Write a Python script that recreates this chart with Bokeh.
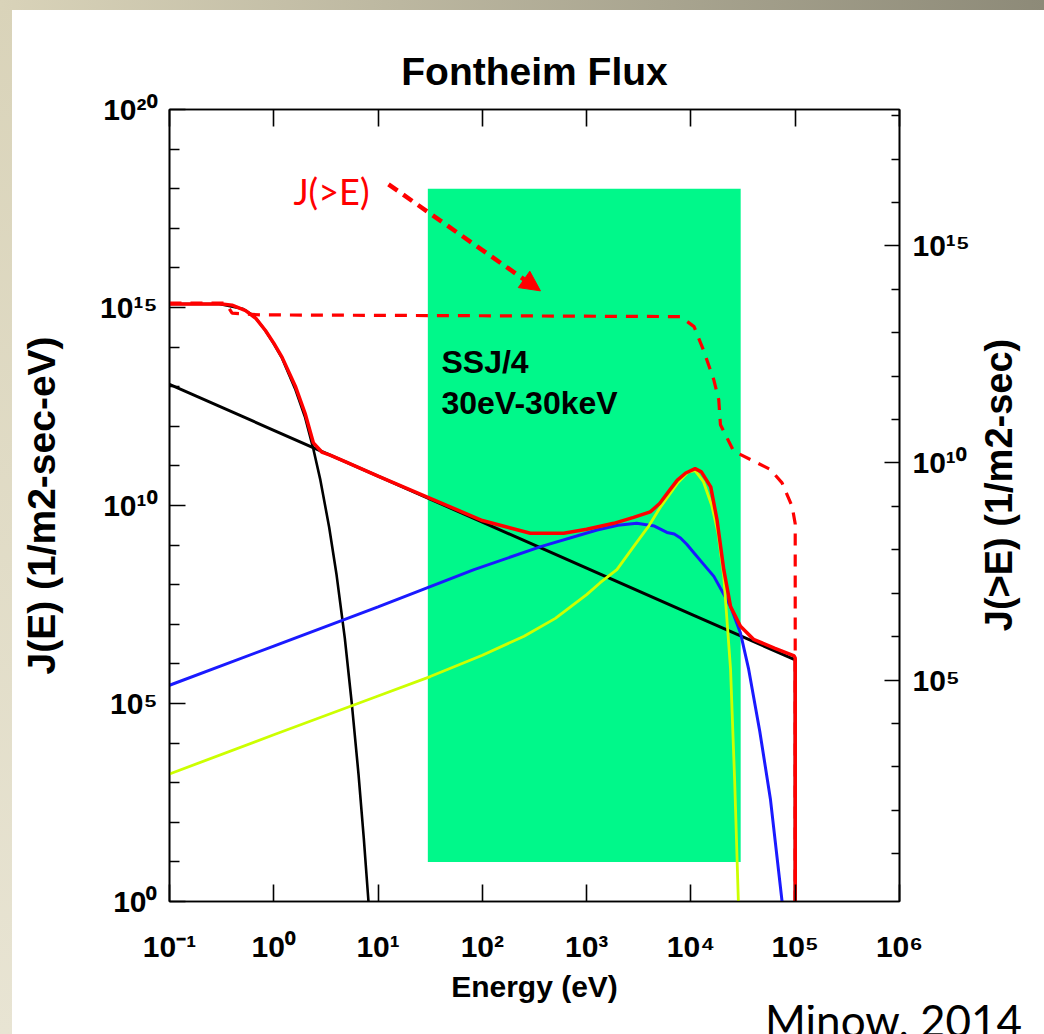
import numpy as np
from bokeh.plotting import figure
from bokeh.models import (LogAxis, FixedTicker, CustomJSTickFormatter, Range1d, LogScale,
                          Arrow, NormalHead, Div)
from bokeh.layouts import column, row
from bokeh.core.properties import value
from bokeh.embed import file_html
from bokeh.resources import INLINE

# ---------------- data (log10 values) ----------------
black_pl_logE = [-1.0, 0.0, 1.0, 2.0, 3.0, 4.0, 5.0, 5.0]
black_pl_logJ = [13.06, 11.90, 10.74, 9.58, 8.42, 7.26, 6.10, -1.0]

black_mx_logE = [-1.0, -0.523, -0.301, -0.187, -0.081, 0.0, 0.079, 0.204, 0.301, 0.380,
                 0.447, 0.531, 0.602, 0.681, 0.748, 0.813, 0.863, 0.908, 0.934]
black_mx_logJ = [15.09, 15.09, 14.97, 14.78, 14.42, 14.08, 13.72, 12.95, 12.22, 11.42,
                 10.64, 9.45, 8.25, 6.65, 5.0, 3.2, 1.6, 0.0, -1.0]

blue_logE = [-1.0, 0.0, 1.0, 1.92, 2.56, 3.10, 3.30, 3.48, 3.65, 3.77, 3.84, 3.90, 3.96, 4.03,
             4.12, 4.22, 4.38, 4.475, 4.554, 4.66, 4.762, 4.874, 4.90]
blue_logJ = [5.46, 6.45, 7.44, 8.38, 8.96, 9.38, 9.50, 9.55, 9.48, 9.32, 9.28, 9.18, 9.02, 8.80,
             8.52, 8.21, 7.45, 6.78, 5.86, 4.30, 2.59, 0.0, -0.6]

yellow_logE = [-1.0, 0.0, 1.0, 1.5, 2.0, 2.4, 2.7, 3.0, 3.13, 3.29, 3.45, 3.60, 3.71, 3.87,
               3.97, 4.04, 4.12, 4.20, 4.26, 4.315, 4.38, 4.42, 4.455, 4.47]
yellow_logJ = [3.22, 4.21, 5.19, 5.68, 6.22, 6.70, 7.15, 7.75, 8.05, 8.38, 8.96, 9.50, 9.97,
               10.56, 10.84, 10.88, 10.60, 10.00, 9.30, 8.21, 5.86, 3.0, 0.0, -1.0]

red_logE = [-1.0, -0.5, -0.4, -0.27, -0.17, -0.08, 0.0, 0.08, 0.21, 0.30, 0.38, 0.46, 0.54,
            0.69, 1.0, 1.5, 2.0, 2.46, 2.78, 3.0, 3.26, 3.45, 3.61, 3.70, 3.80, 3.87, 3.95,
            4.04, 4.10, 4.19, 4.25, 4.315, 4.38, 4.475, 4.60, 4.80, 4.99, 5.0, 5.0]
red_logJ = [15.09, 15.09, 15.06, 14.92, 14.72, 14.42, 14.10, 13.74, 12.99, 12.33, 11.58, 11.35,
            11.27, 11.10, 10.74, 10.18, 9.62, 9.30, 9.30, 9.40, 9.55, 9.70, 9.84, 10.05, 10.40,
            10.64, 10.82, 10.93, 10.85, 10.47, 9.64, 8.38, 7.45, 6.95, 6.62, 6.40, 6.20, 6.15, -1.0]

# integral flux J(>E), right axis
jint_logE = [-1.0, -0.46, -0.40, -0.13, 2.0, 3.9, 4.03, 4.12, 4.22, 4.267, 4.283, 4.41, 4.57,
             4.762, 4.874, 4.97, 5.0, 5.0]
jint_logJ = [13.68, 13.68, 13.45, 13.41, 13.39, 13.37, 13.14, 12.60, 11.91, 11.45, 10.88, 10.27,
             10.08, 9.85, 9.54, 9.00, 8.60, -1.0]

ssj_band_E = [30.0, 30000.0]
ssj_band_J = [10.0, 1e18]

x_tick_exp = [-1, 0, 1, 2, 3, 4, 5, 6]
left_major_exp = [0, 5, 10, 15, 20]
right_major_exp = [5, 10, 15]

arrow_logE = [1.10, 2.557]
arrow_logJ = [18.11, 15.42]
jlabel_logE = [0.553]
jlabel_logJ = [17.94]
ssj_text = ["SSJ/4", "30eV-30keV"]
ssj_logE = [1.608, 1.608]
ssj_logJ = [13.62, 12.60]
right_label_text = "J(&gt;E) (1/m2-sec)"
credit_text = "Minow, 2014"


def pw(a):
    return (10.0 ** np.array(a, dtype=float)).tolist()


FONT = "Liberation Sans"

p = figure(width=975, height=1005, x_axis_type="log", y_axis_type="log",
           x_range=Range1d(10 ** -1.0, 10 ** 6.0), y_range=Range1d(10 ** 0.0, 10 ** 20.0),
           output_backend="svg", toolbar_location=None, title="Fontheim Flux",
           min_border_left=169, min_border_right=76, min_border_top=109, min_border_bottom=102)
p.extra_y_ranges = {"jint": Range1d(10 ** -0.1, 10 ** 18.14)}
p.extra_y_scales = {"jint": LogScale()}

p.background_fill_color = "white"
p.border_fill_alpha = 0.0
p.outline_line_color = "black"
p.outline_line_width = 1.6
p.xgrid.visible = False
p.ygrid.visible = False

p.title.text_font = FONT
p.title.text_font_size = "39px"
p.title.text_font_style = "bold"
p.title.text_color = "black"
p.title.align = "center"
p.title.standoff = 33

fmt_code = """
const s = {"-": "\\u207b", "0": "\\u2070", "1": "\\u00b9", "2": "\\u00b2", "3": "\\u00b3",
           "4": "\\u2074", "5": "\\u2075", "6": "\\u2076", "7": "\\u2077", "8": "\\u2078", "9": "\\u2079"};
const e = Math.round(Math.log10(tick));
return "10" + String(e).split("").map((c) => s[c]).join("");
"""


def style_axis(ax, tick_in, minor_in):
    ax.axis_line_color = "black"
    ax.axis_line_width = 1.6
    ax.major_tick_line_color = "black"
    ax.major_tick_line_width = 1.6
    ax.minor_tick_line_color = "black"
    ax.minor_tick_line_width = 1.6
    ax.major_tick_in = tick_in
    ax.major_tick_out = 0
    ax.minor_tick_in = minor_in
    ax.minor_tick_out = 0
    ax.major_label_text_font = FONT
    ax.major_label_text_font_style = "bold"
    ax.major_label_text_font_size = "30px"
    ax.major_label_text_color = "black"
    ax.axis_label_text_font = FONT
    ax.axis_label_text_font_style = "bold"
    ax.axis_label_text_color = "black"
    ax.formatter = CustomJSTickFormatter(code=fmt_code)


# bottom axis
xb = p.xaxis[0]
xb.ticker = FixedTicker(ticks=[10.0 ** k for k in x_tick_exp], minor_ticks=[])
style_axis(xb, 17, 0)
xb.major_label_standoff = 28
xb.axis_label = "Energy (eV)"
xb.axis_label_text_font_size = "30px"
xb.axis_label_standoff = 4

# top axis (ticks only)
xt = LogAxis(ticker=FixedTicker(ticks=[10.0 ** k for k in x_tick_exp], minor_ticks=[]))
style_axis(xt, 17, 0)
xt.formatter = CustomJSTickFormatter(code="return '';")
xt.major_label_text_font_size = "1px"
xt.major_label_standoff = 0
p.add_layout(xt, "above")

# left axis
yl = p.yaxis[0]
yl.ticker = FixedTicker(ticks=[10.0 ** k for k in left_major_exp],
                        minor_ticks=[10.0 ** k for k in range(1, 20) if k % 5])
style_axis(yl, 16, 10)
yl.major_label_standoff = 12
yl.axis_label = "J(E) (1/m2-sec-eV)"
yl.axis_label_text_font_size = "39px"
yl.axis_label_standoff = 34

# right axis (label is drawn in the side panel next to the figure)
yr = LogAxis(y_range_name="jint",
             ticker=FixedTicker(ticks=[10.0 ** k for k in right_major_exp],
                                minor_ticks=[10.0 ** k for k in range(1, 19) if k % 5]))
style_axis(yr, 15, 8)
yr.major_label_standoff = 13
p.add_layout(yr, "right")

# SSJ/4 band
p.quad(left=[ssj_band_E[0]], right=[ssj_band_E[1]], bottom=[ssj_band_J[0]], top=[ssj_band_J[1]],
       fill_color="#00f88a", line_color=None)

p.line(pw(black_pl_logE), pw(black_pl_logJ), line_color="black", line_width=3)
p.line(pw(black_mx_logE), pw(black_mx_logJ), line_color="black", line_width=2.6)
p.line(pw(blue_logE), pw(blue_logJ), line_color="#1a1aff", line_width=3)
p.line(pw(yellow_logE), pw(yellow_logJ), line_color="#ccff00", line_width=2.8)
p.line(pw(red_logE), pw(red_logJ), line_color="#ff0000", line_width=3.5)
p.line(pw(jint_logE), pw(jint_logJ), line_color="#ff0000", line_width=3.2, line_dash="12 9",
       y_range_name="jint")

p.text(x=pw(ssj_logE), y=pw(ssj_logJ), text=ssj_text, text_font=value(FONT),
       text_font_style="bold", text_font_size="32px", text_color="black",
       text_align="left", text_baseline="alphabetic")

p.text(x=pw(jlabel_logE), y=pw(jlabel_logJ), text=["J(>E)"], text_font=value("Lato"),
       text_font_size="36px", text_color="#ff0000", text_align="center", text_baseline="middle")

p.add_layout(Arrow(x_start=10 ** arrow_logE[0], y_start=10 ** arrow_logJ[0],
                   x_end=10 ** arrow_logE[1], y_end=10 ** arrow_logJ[1],
                   line_color="#ff0000", line_width=4.5, line_dash="11 7",
                   end=NormalHead(size=20, fill_color="#ff0000", line_color="#ff0000", line_width=1)))

right_label = Div(
    text='<div style="position:relative; width:69px; height:1005px;">'
         '<div style="position:absolute; left:24px; top:485px; '
         'transform:translate(-50%,-50%) rotate(-90deg); white-space:nowrap; '
         "font-family:'Liberation Sans'; font-weight:bold; font-size:38px; color:#000000;\">"
         + right_label_text + '</div></div>',
    width=69, height=1005, margin=(0, 0, 0, 0))

credit = Div(text='<div style="position:relative; top:-7px; left:765px; font-family:Lato; '
                  'font-size:44px; line-height:44px; color:#000000; white-space:nowrap;">'
                  + credit_text + '</div>',
             width=1044, height=29, margin=(0, 0, 0, 0), styles={"overflow": "hidden"})

layout = column(row(p, right_label, spacing=0), credit, spacing=0)
layout.styles = {"background": "linear-gradient(to right, #d9d3b9, #8d8a78) 0 0 / 100% 10px no-repeat, "
                               "linear-gradient(to bottom, #d9d3b9, #e8e4d3) 0 0 / 12px 100% no-repeat, "
                               "#ffffff"}

open("out.html", "w", encoding="utf-8").write(file_html(layout, INLINE))
